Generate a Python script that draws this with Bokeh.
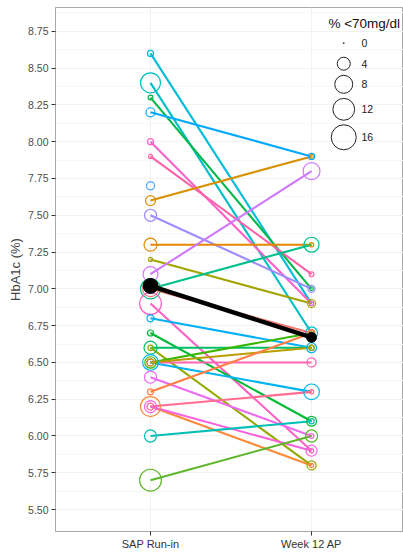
import numpy as np
from bokeh.plotting import figure
from bokeh.models import ColumnDataSource, FixedTicker, Range1d, NumeralTickFormatter, Label
from bokeh.core.properties import value
from bokeh.embed import file_html
from bokeh.resources import INLINE

nan = float("nan")

# ---- data ----
timepoints = ["SAP Run-in", "Week 12 AP"]

hba1c_runin = [8.6, 8.4, 8.3, 8.2, 8.0, 7.9, 7.7, 7.6, 7.5, 7.3,
               7.2, 7.1, 7.0, 7.0, 6.9, 6.8, 6.7, 6.6, 6.6, 6.5,
               6.5, 6.5, 6.5, 6.4, 6.3, 6.2, 6.2, 6.2, 6.0, 5.7]
hba1c_week12 = [6.9, 6.7, 7.0, 7.9, 6.9, 7.1, nan, 7.9, 7.0, 7.3,
                6.9, 7.8, 7.3, 6.7, 5.9, 6.6, 6.1, 6.6, 5.8, 6.3,
                6.5, 6.7, 6.6, 6.0, 6.7, 5.8, 6.3, 5.9, 6.1, 6.0]
hypo_runin = [0.7, 10, 0.4, 1.8, 0.7, 0.25, 1.4, 2.2, 3.4, 4,
              0.25, 5.4, 10, 6, 12, 1, 0.7, 4, 0.5, 6,
              1, 3, 1, 3.4, 0.7, 10, 1, 3.4, 3.4, 12]
hypo_week12 = [0.3, 3.4, 0.2, 0.7, 0.3, 0.4, nan, 0.2, 1, 0.3,
               1.4, 7, 5.4, 1, 0.3, 2.2, 2.2, 0.5, 1.8, 6,
               1.8, 0.5, 0.5, 0.4, 0.5, 0.3, 0.3, 2.8, 0.5, 3.4]
patient_colors = ["#00BCD8", "#00BFC4", "#00B84A", "#00A9FF", "#FF61C9", "#FF62A8", "#4EA6FF", "#D89000", "#9E8CFF", "#E58700",
                  "#A3A500", "#CF78FF", "#00C08B", "#F8766D", "#FF61C3", "#00B0F6", "#00BA38", "#00BE67", "#93AA00", "#00B4EF",
                  "#FF64B0", "#39B600", "#BB9D00", "#EE6AF0", "#FF7F44", "#FD8A38", "#FF6C91", "#F962DD", "#00BFB5", "#5DB72B"]

mean_hba1c = [7.02, 6.67]
mean_hypo = [5.4, 2.2]

legend_breaks = [0, 4, 8, 12, 16]
legend_title = "% <70mg/dl"

y_ticks = [5.50, 5.75, 6.00, 6.25, 6.50, 6.75, 7.00, 7.25, 7.50, 7.75, 8.00, 8.25, 8.50, 8.75]


def size_of(v):
    # area scale: diameter in px
    return 1 + 6 * np.sqrt(np.asarray(v, dtype=float))


xpos = [i + 1 for i in range(len(timepoints))]
FONT = "Liberation Sans"

p = figure(width=403, height=552, output_backend="svg", toolbar_location=None,
           x_range=Range1d(0.41, 2.571), y_range=Range1d(5.351, 8.912),
           min_border_left=55, min_border_right=0, min_border_top=7, min_border_bottom=18,
           background_fill_color="white", border_fill_color="white")

p.outline_line_color = "#A8A8A8"
p.outline_line_width = 1

# grid
p.ygrid.grid_line_color = "#F2F2F2"
p.ygrid.minor_grid_line_color = "#F7F7F7"
p.xgrid.grid_line_color = "#F2F2F2"

# axes
p.yaxis.ticker = FixedTicker(ticks=y_ticks, minor_ticks=[t + 0.125 for t in y_ticks])
p.yaxis.formatter = NumeralTickFormatter(format="0.00")
p.xaxis.ticker = FixedTicker(ticks=xpos)
p.xaxis.major_label_overrides = {x: t for x, t in zip(xpos, timepoints)}
for ax in (p.xaxis[0], p.yaxis[0]):
    ax.axis_line_color = "#A8A8A8"
    ax.major_tick_line_color = "#333333"
    ax.major_tick_out = 4
    ax.major_tick_in = 0
    ax.minor_tick_out = 0
    ax.minor_tick_in = 0
    ax.major_label_text_font = FONT
    ax.major_label_text_color = "#4D4D4D"
p.yaxis.major_label_text_font_size = "10.5px"
p.xaxis.major_label_text_font_size = "11px"
p.xaxis.major_label_text_color = "#333333"
p.yaxis.major_label_standoff = 3
p.xaxis.major_label_standoff = 2
p.yaxis.axis_label = "HbA1c (%)"
p.yaxis.axis_label_text_font = FONT
p.yaxis.axis_label_text_font_style = "normal"
p.yaxis.axis_label_text_font_size = "13px"
p.yaxis.axis_label_standoff = 2

# patient lines
line_src = ColumnDataSource(dict(
    xs=[xpos for _ in hba1c_runin],
    ys=[[a, b] for a, b in zip(hba1c_runin, hba1c_week12)],
    color=patient_colors))
p.multi_line(xs="xs", ys="ys", line_color="color", line_width=2.1, source=line_src)

# patient points (hollow circles sized by % < 70 mg/dl)
pt_src = ColumnDataSource(dict(
    x=[xpos[0]] * len(hba1c_runin) + [xpos[1]] * len(hba1c_week12),
    y=hba1c_runin + hba1c_week12,
    size=list(size_of(hypo_runin)) + list(size_of(hypo_week12)),
    color=patient_colors + patient_colors))
p.scatter(x="x", y="y", size="size", marker="circle", fill_color=None,
          line_color="color", line_width=1.2, source=pt_src)

# mean trajectory
mean_src = ColumnDataSource(dict(x=xpos, y=mean_hba1c, size=size_of(mean_hypo)))
p.line(x="x", y="y", line_color="black", line_width=4.5, source=mean_src)
p.scatter(x="x", y="y", size="size", marker="circle", fill_color="black",
          line_color="black", source=mean_src)

# size legend (drawn inside the panel, top right)
leg_x = 2.2
leg_y = [8.67, 8.53, 8.39, 8.22, 8.03]
leg_src = ColumnDataSource(dict(x=[leg_x] * len(legend_breaks), y=leg_y,
                                size=size_of(legend_breaks),
                                lx=[leg_x + 0.11] * len(legend_breaks),
                                label=[str(b) for b in legend_breaks]))
p.scatter(x="x", y="y", size="size", marker="circle", fill_color=None,
          line_color="#222222", line_width=1, source=leg_src)
p.text(x="lx", y="y", text="label", text_font=value(FONT), text_font_size="10.5px",
       text_baseline="middle", text_align="left", text_color="#222222", source=leg_src)
p.add_layout(Label(x=2.105, y=8.80, text=legend_title, text_font=FONT,
                   text_font_size="13.5px", text_baseline="middle", text_color="#111111"))

open("out.html", "w").write(file_html(p, INLINE))
